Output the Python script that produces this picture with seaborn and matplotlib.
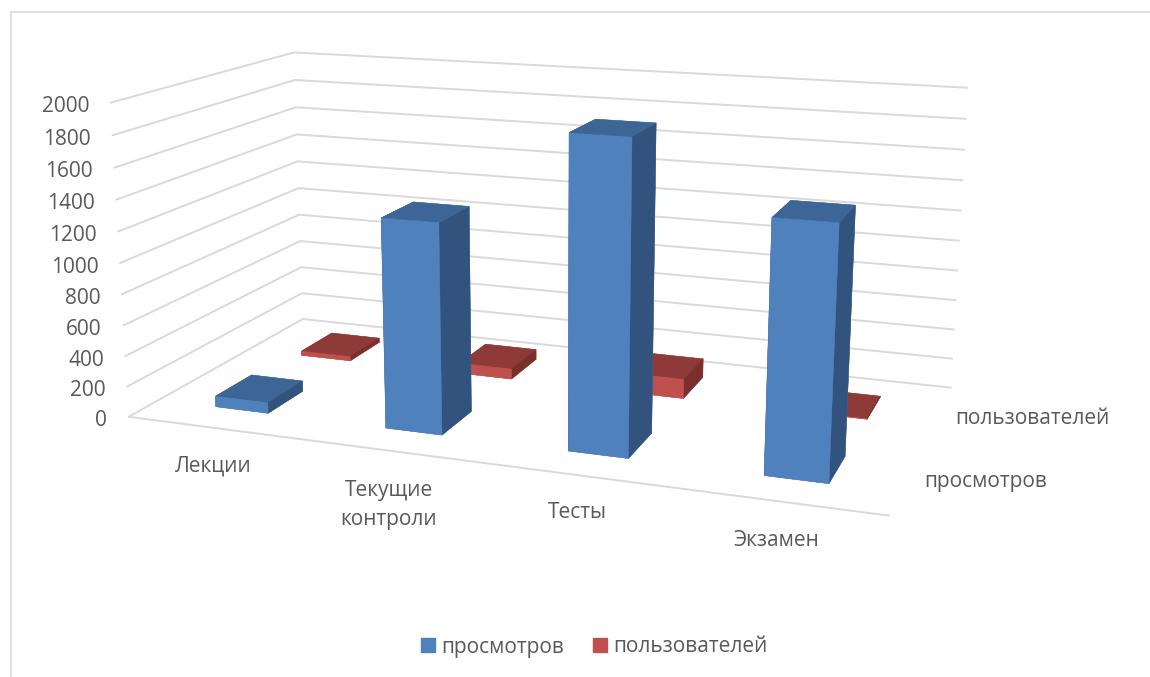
"""Трёхмерная гистограмма: просмотры и пользователи по видам активности."""
import matplotlib
matplotlib.use("Agg")
import matplotlib.pyplot as plt
from matplotlib.lines import Line2D
from matplotlib.patches import Patch
from mpl_toolkits.mplot3d import proj3d
import seaborn as sns

categories = ["Лекции", "Текущие\nконтроли", "Тесты", "Экзамен"]
views = [70, 1335, 1930, 1525]
users = [30, 70, 130, 3]
z_ticks = [0, 200, 400, 600, 800, 1000, 1200, 1400, 1600, 1800, 2000]
series = ["просмотров", "пользователей"]

GRID = "#D9D9D9"
TEXT = "#595959"
BLUE = ("#4F81BD", "#3D6595", "#31537D")
RED = ("#C0504D", "#8E3A38", "#7A2F2D")
BAR_W, BAR_D = 0.315, 0.40
W_PX, H_PX = 1150, 677
FONT = 15

sns.set_theme(style="white")
plt.rcParams["font.family"] = ["Open Sans", "DejaVu Sans"]

fig = plt.figure(figsize=(W_PX / 100, H_PX / 100), dpi=100)
ax = fig.add_subplot(projection="3d", computed_zorder=False)
ax.set_xlim(0, len(categories), view_margin=0)
ax.set_ylim(0, len(series), view_margin=0)
ax.set_zlim(0, z_ticks[-1], view_margin=0)

# Камера подобрана под исходную картинку
ax.view_init(13.974, -70.067, -0.018)
ax.set_proj_type("persp", focal_length=0.389)
ax.set_box_aspect((4.786, 2.367, 2.0))
ax.set_position([0.0875, -0.0351, 0.7606, 1.2920])
ax.set_axis_off()


def fig_text(x, y, s, **kwargs):
    """Подпись в пикселях исходной картинки."""
    fig.text(x / W_PX, 1 - y / H_PX, s, fontsize=FONT, color=TEXT, **kwargs)


def draw_bars(values, y_center, colors, zorder):
    """Столбцы одного ряда, грани: низ, верх, перед, зад, лево, право."""
    front, top, side = colors
    faces = [front, top, front, front, side, side]
    for i, value in enumerate(values):
        ax.bar3d(i + 0.505 - BAR_W / 2, y_center - BAR_D / 2, 0,
                 BAR_W, BAR_D, value, color=faces, edgecolor=faces,
                 linewidth=0.3, shade=False, zorder=zorder + i)


# Сетка на стенках и передний край пола
proj = ax.get_proj()
for z in z_ticks:
    ax.plot([0, 0, len(categories)], [0, len(series), len(series)], [z, z, z],
            color=GRID, lw=1.4, zorder=1)
    px, py, _ = proj3d.proj_transform(0, 0, z, proj)
    ax.annotate(str(z), xy=(px, py), xycoords="data", xytext=(-21.5, -4),
                textcoords="offset pixels", ha="right", va="center",
                fontsize=FONT, color=TEXT)
ax.plot([0, len(categories)], [0, 0], [0, 0], color=GRID, lw=1.4, zorder=1)

draw_bars(users, 1.505, RED, 5)
draw_bars(views, 0.505, BLUE, 15)

# Подписи категорий и рядов
for (x, y), label in zip([(213, 466), (389, 505), (577, 512), (776, 541)], categories):
    fig_text(x, y, label, ha="center", va="center", linespacing=1.5)
fig_text(924, 482, series[0], ha="left", va="center")
fig_text(955, 419, series[1], ha="left", va="center")

# Рамка: только сверху и слева
fig.add_artist(Line2D([11 / W_PX, 1], [1 - 12 / H_PX] * 2, color=GRID, lw=1.2))
fig.add_artist(Line2D([11 / W_PX] * 2, [0, 1 - 12 / H_PX], color=GRID, lw=1.2))

handles = [Patch(color=BLUE[0], label=series[0]), Patch(color=RED[0], label=series[1])]
fig.legend(handles=handles, ncol=2, loc="center", bbox_to_anchor=(594 / W_PX, 1 - 647 / H_PX),
           frameon=False, fontsize=FONT, handlelength=0.67, handleheight=0.67,
           handletextpad=0.3, columnspacing=1.4, labelcolor=TEXT)

fig.savefig("out.png", dpi=100)
